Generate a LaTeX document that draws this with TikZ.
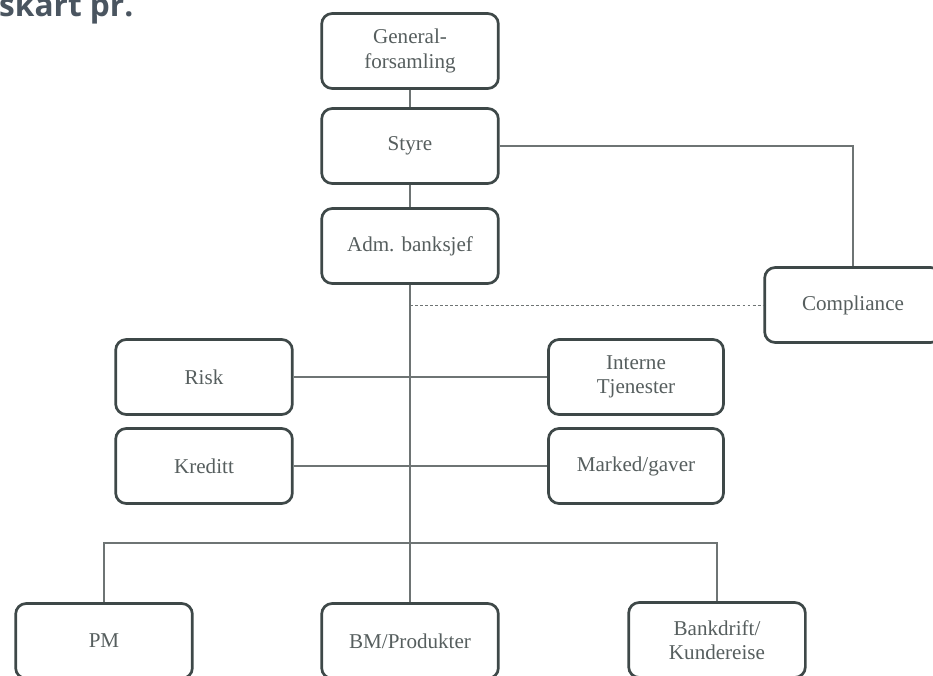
\documentclass[tikz,border=0pt]{standalone}
\usepackage{fontspec}
\setmainfont{Liberation Serif}
\newfontfamily\titlefont{Open Sans}
\definecolor{boxline}{HTML}{3E4848}
\definecolor{boxtext}{HTML}{565E5E}
\definecolor{linkgray}{HTML}{6E7474}
\definecolor{titlegray}{HTML}{4A5560}
\begin{document}
\begin{tikzpicture}[x=0.03cm,y=-0.03cm,
  unit/.style={draw=boxline, line width=2.3pt, rounded corners=9pt,
    minimum width=5.3cm, minimum height=2.25cm, align=center, text=boxtext,
    font=\fontsize{18}{21}\selectfont, inner sep=2pt},
  link/.style={draw=linkgray, line width=1.1pt}]
\clip (0,0) rectangle (933,675);

\node[anchor=base west, inner sep=0pt, text=titlegray,
  font=\titlefont\bfseries\fontsize{27}{27}\selectfont] (title) at (-1,17) {skart pr.};

\node[unit] (gf) at (410,51) {General-\\forsamling};
\node[unit] (styre) at (410,146) {Styre};
\node[unit] (adm) at (410,246) {Adm. banksjef};
\node[unit] (comp) at (853,305) {Compliance};
\node[unit] (risk) at (204,377) {Risk};
\node[unit] (kred) at (204,466) {Kreditt};
\node[unit, minimum width=5.25cm] (intern) at (636,377) {Interne\\Tjenester};
\node[unit, minimum width=5.25cm] (mark) at (636,466) {Marked/gaver};
\node[unit] (pm) at (104,641) {PM};
\node[unit] (bm) at (410,641) {BM/Produkter};
\node[unit] (bank) at (717,640) {Bankdrift/\\Kundereise};

\coordinate (bus) at (410,543);
\coordinate (dj) at (adm.south |- comp.west);

\draw[link] (gf) -- (styre);
\draw[link] (styre) -- (adm);
\draw[link] (styre.east) -| (comp.north);
\draw[link] (adm) -- (bm);
\draw[link, line width=0.8pt, dash pattern=on 2.5pt off 1.8pt] (dj) -- (comp.west);
\draw[link] (risk) -- (intern);
\draw[link] (kred) -- (mark);
\draw[link] (pm.north) |- (bus) -| (bank.north);
\end{tikzpicture}
\end{document}
